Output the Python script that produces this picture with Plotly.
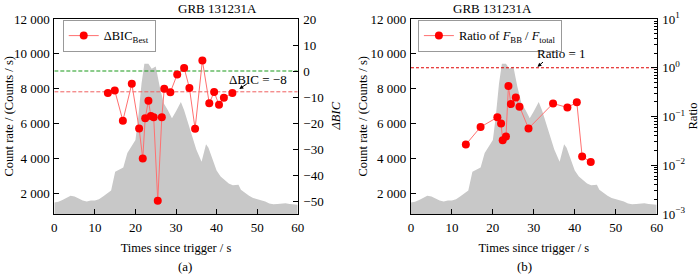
import plotly.graph_objects as go

# ---------------- data ----------------
lc_time = [0, 1, 2, 3, 4, 5, 6, 7, 8, 9, 10, 11, 12, 13, 14, 15, 16, 17, 18, 19, 20,
           20.7, 21.5, 22.2, 23.2, 24, 25, 26, 27, 28, 29, 30, 31.2, 32, 33, 34, 35,
           36.3, 37.4, 38, 39, 40, 41, 42, 43, 44, 45.4, 46, 47, 48, 49, 50, 51, 52,
           53, 54, 55, 56, 57, 58, 59, 60]
lc_rate = [1460, 1500, 1600, 1720, 1850, 1800, 1680, 1580, 1520, 1580, 1580, 1650,
           1800, 1980, 2150, 3230, 3350, 3470, 4300, 4660, 5050,
           6380, 8290, 9430, 9430, 9140, 9270, 8100, 7150, 6760, 6300, 6700, 7230,
           6760, 6000, 5200, 4500, 3800, 4800, 4600, 3900, 3300, 2950, 2750, 2550,
           2450, 2480, 2200, 2000, 1850, 1720, 1650, 1600, 1520, 1400, 1360, 1380,
           1400, 1420, 1380, 1350, 1330]

bic_time = [13.2, 14.9, 16.9, 19.1, 20.9, 21.8, 22.4, 23.2, 23.8, 24.5, 25.5, 26.5,
            27.1, 28.6, 30.3, 32.0, 33.3, 34.7, 36.5, 38.2, 39.4, 40.6, 41.8, 43.9]
bic_val = [-8.5, -7.5, -19.1, -4.9, -22.1, -33.7, -18.2, -11.4, -17.3, -17.8, -49.9,
           -17.8, -6.8, -8.2, -1.3, 1.2, -6.5, -22.2, 4.0, -12.4, -8.1, -13.0, -10.3, -8.5]

ratio_time = [13.4, 17.0, 21.1, 22.0, 22.4, 23.2, 23.8, 24.4, 25.6, 26.5, 28.7, 34.7,
              38.2, 40.5, 41.8, 43.9]
ratio_val = [0.0265, 0.061, 0.096, 0.072, 0.0325, 0.039, 0.42, 0.18, 0.246, 0.158,
             0.057, 0.185, 0.153, 0.195, 0.0152, 0.0116]

bic_zero = 0
bic_threshold = -8
ratio_one = 1
x_span = [0, 60]

count_ticks = [2000, 4000, 6000, 8000, 10000, 12000]
count_ticktext = ["2 000", "4 000", "6 000", "8 000", "10 000", "12 000"]
bic_ticks = [-50, -40, -30, -20, -10, 0, 10, 20]
bic_ticktext = ["\u221250", "\u221240", "\u221230", "\u221220", "\u221210", "0", "10", "20"]
ratio_ticks = [0.001, 0.01, 0.1, 1, 10]
ratio_ticktext = ["10<sup>\u22123</sup>", "10<sup>\u22122</sup>", "10<sup>\u22121</sup>",
                  "10<sup>0</sup>", "10<sup>1</sup>"]
ratio_minor = [m * 10 ** e for e in (-3, -2, -1, 0) for m in range(2, 10)]

# ---------------- figure ----------------
FONT = "Liberation Serif"
RED = "#ff0000"
GRAY = "#c8c8c8"

fig = go.Figure()

# Left panel
fig.add_trace(go.Scatter(x=lc_time, y=lc_rate, fill="tozeroy", mode="lines",
                         line=dict(width=0, color=GRAY), fillcolor=GRAY,
                         showlegend=False, xaxis="x", yaxis="y", hoverinfo="skip"))
fig.add_trace(go.Scatter(x=x_span, y=[bic_zero, bic_zero], mode="lines",
                         line=dict(color="#1a9a1a", width=1.2, dash="4px,2px"),
                         showlegend=False, xaxis="x", yaxis="y2"))
fig.add_trace(go.Scatter(x=x_span, y=[bic_threshold, bic_threshold], mode="lines",
                         line=dict(color="#f06060", width=1, dash="4px,2px"),
                         showlegend=False, xaxis="x", yaxis="y2"))
fig.add_trace(go.Scatter(x=bic_time, y=bic_val, mode="lines+markers",
                         name="\u0394BIC<sub>Best</sub>",
                         line=dict(color="#ff7070", width=1),
                         marker=dict(color=RED, size=8),
                         xaxis="x", yaxis="y2", legend="legend"))

# Right panel
fig.add_trace(go.Scatter(x=lc_time, y=lc_rate, fill="tozeroy", mode="lines",
                         line=dict(width=0, color=GRAY), fillcolor=GRAY,
                         showlegend=False, xaxis="x2", yaxis="y3", hoverinfo="skip"))
fig.add_trace(go.Scatter(x=x_span, y=[ratio_one, ratio_one], mode="lines",
                         line=dict(color="#e00000", width=1.2, dash="3px,2px"),
                         showlegend=False, xaxis="x2", yaxis="y4"))
fig.add_trace(go.Scatter(x=ratio_time, y=ratio_val, mode="lines+markers",
                         name="Ratio of <i>F</i><sub>BB</sub> / <i>F</i><sub>total</sub>",
                         line=dict(color="#ff7070", width=1),
                         marker=dict(color=RED, size=8),
                         xaxis="x2", yaxis="y4", legend="legend2"))

tickfont = dict(family=FONT, size=13, color="black")
titlefont = dict(family=FONT, size=12.5, color="black")
common_x = dict(range=[0, 60], tickvals=[0, 10, 20, 30, 40, 50, 60], ticks="inside",
                ticklen=5, tickcolor="black", showline=True, linecolor="black",
                linewidth=1, mirror=True, showgrid=False, zeroline=False,
                tickfont=tickfont, ticklabelstandoff=1, automargin=False,
                title=dict(text="Times since trigger / s", font=titlefont, standoff=9))
common_count = dict(range=[800, 12000], tickvals=count_ticks, ticktext=count_ticktext,
                    ticks="inside", ticklen=5, tickcolor="black", showline=True,
                    linecolor="black", linewidth=1, showgrid=False, zeroline=False,
                    tickfont=tickfont, ticklabelstandoff=1, automargin=False)

fig.update_layout(
    width=700, height=275,
    margin=dict(l=0, r=0, t=19, b=61, autoexpand=False),
    paper_bgcolor="white", plot_bgcolor="white",
    font=dict(family=FONT, size=12, color="black"),
    xaxis=dict(domain=[0.0776, 0.4253], anchor="y", **common_x),
    yaxis=dict(anchor="x", **common_count),
    yaxis2=dict(overlaying="y", side="right", anchor="x", range=[-55, 20],
                tickvals=bic_ticks, ticktext=bic_ticktext, ticks="inside", ticklen=5,
                tickcolor="black", showline=True, linecolor="black", linewidth=1,
                showgrid=False, zeroline=False, tickfont=tickfont, ticklabelstandoff=2,
                automargin=False),
    xaxis2=dict(domain=[0.5871, 0.9381], anchor="y3", **common_x),
    yaxis3=dict(anchor="x2", **common_count),
    yaxis4=dict(overlaying="y3", side="right", anchor="x2", type="log", range=[-3, 1],
                tickvals=ratio_ticks, ticktext=ratio_ticktext, ticks="inside", ticklen=6,
                tickcolor="black", showline=True, linecolor="black", linewidth=1,
                showgrid=False, zeroline=False, tickfont=tickfont, ticklabelstandoff=2,
                automargin=False,
                minor=dict(tickvals=ratio_minor, ticks="inside", ticklen=3,
                           tickcolor="black", showgrid=False)),
    legend=dict(x=0.0896, y=0.995, xanchor="left", yanchor="top",
                bgcolor="white", bordercolor="#999999", borderwidth=1,
                font=dict(family=FONT, size=12.5), itemwidth=30),
    legend2=dict(x=0.597, y=0.995, xanchor="left", yanchor="top",
                 bgcolor="white", bordercolor="#999999", borderwidth=1,
                 font=dict(family=FONT, size=12.5), itemwidth=30),
    showlegend=True,
)

ymid = 0.5
annotations = [
    dict(text="GRB 131231A", x=0.2514, y=1.056, xref="paper", yref="paper",
         showarrow=False, font=dict(family=FONT, size=13), yanchor="middle"),
    dict(text="GRB 131231A", x=0.7626, y=1.056, xref="paper", yref="paper",
         showarrow=False, font=dict(family=FONT, size=13), yanchor="middle"),
    dict(text="(a)", x=0.2514, y=-0.27, xref="paper", yref="paper",
         showarrow=False, font=dict(family=FONT, size=13), yanchor="middle"),
    dict(text="(b)", x=0.7626, y=-0.27, xref="paper", yref="paper",
         showarrow=False, font=dict(family=FONT, size=13), yanchor="middle"),
    # axis titles
    dict(text="Count rate / (Counts / s)", x=8 / 700, y=ymid, xref="paper", yref="paper",
         showarrow=False, textangle=-90, font=titlefont, xanchor="center", yanchor="middle"),
    dict(text="Count rate / (Counts / s)", x=362 / 700, y=ymid, xref="paper", yref="paper",
         showarrow=False, textangle=-90, font=titlefont, xanchor="center", yanchor="middle"),
    dict(text="<i>\u0394BIC</i>", x=335 / 700, y=ymid, xref="paper", yref="paper",
         showarrow=False, textangle=-90, font=titlefont, xanchor="center", yanchor="middle"),
    dict(text="Ratio", x=692 / 700, y=ymid, xref="paper", yref="paper",
         showarrow=False, textangle=-90, font=titlefont, xanchor="center", yanchor="middle"),
    # reference-line labels
    dict(text="\u0394BIC = \u22128", x=50.2, y=-3.3, xref="x", yref="y2",
         showarrow=False, font=dict(family=FONT, size=13)),
    dict(text="", x=45.6, y=-6.9, xref="x", yref="y2", ax=9, ay=-6,
         showarrow=True, arrowhead=2, arrowsize=0.8, arrowwidth=1, arrowcolor="black"),
    dict(text="Ratio = 1", x=36.8, y=0.286, xref="x2", yref="y4",
         showarrow=False, font=dict(family=FONT, size=13)),
    dict(text="", x=30.9, y=0.02, xref="x2", yref="y4", ax=7, ay=-6,
         showarrow=True, arrowhead=2, arrowsize=0.8, arrowwidth=1, arrowcolor="black"),
]
fig.update_layout(annotations=annotations)

fig.write_html("out.html", config={"displayModeBar": False},
               post_script="document.body.style.margin='0';document.body.style.padding='0';")
